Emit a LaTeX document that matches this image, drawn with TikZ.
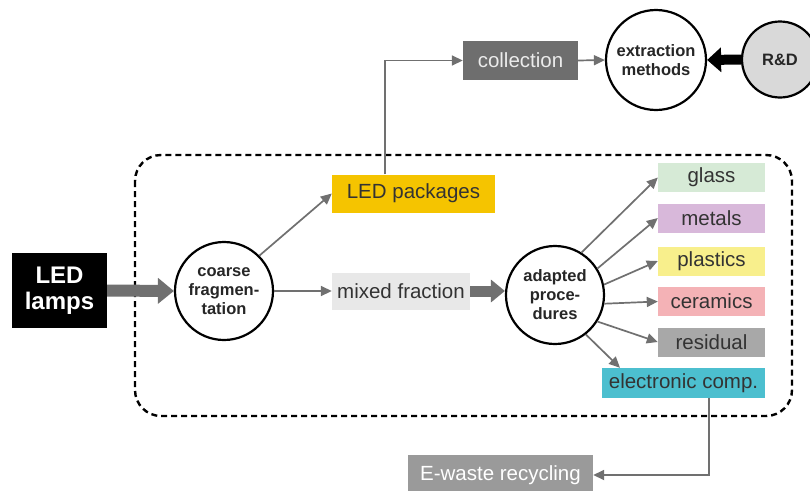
\documentclass[tikz,border=0pt]{standalone}
\usepackage{fontspec}
\setmainfont{Liberation Sans}
\usetikzlibrary{arrows.meta,positioning}
\definecolor{arrgray}{HTML}{707070}
\definecolor{ledyellow}{HTML}{F5C400}
\definecolor{mixgray}{HTML}{E8E8E8}
\definecolor{colgray}{HTML}{6E6E6E}
\definecolor{rdgray}{HTML}{D9D9D9}
\definecolor{cglass}{HTML}{D6EAD6}
\definecolor{cmetal}{HTML}{D8B8DA}
\definecolor{cplast}{HTML}{F8EF8C}
\definecolor{cceram}{HTML}{F4B2B6}
\definecolor{cresid}{HTML}{A8A8A8}
\definecolor{celec}{HTML}{4CBFCF}
\definecolor{cewaste}{HTML}{9A9A9A}
\tikzset{
  boxtxt/.style={font=\fontsize{20.5}{22}\selectfont, inner sep=0pt, text=black!80},
  outbox/.style={boxtxt, minimum width=107pt, minimum height=29pt},
  proc/.style={circle, draw=black, line width=2.2pt, fill=white, minimum size=98pt, inner sep=0pt, align=center, font=\bfseries\fontsize{16.5}{19}\selectfont, text=black!85},
  conn/.style={draw=arrgray, line width=1.7pt, -{Triangle[length=11pt,width=10pt]}},
  thick arrow/.style={draw=arrgray, line width=12pt, -{Triangle[length=16pt,width=25pt]}},
}
\begin{document}
\begin{tikzpicture}[x=1pt,y=-1pt]
\useasboundingbox (0,0) rectangle (810,490);
\fill[white] (0,0) rectangle (810,490);
% dashed frame
\draw[line width=2.4pt, dash pattern=on 6pt off 4pt, rounded corners=26pt] (135,155) rectangle (792,416);
% nodes
\node[fill=black, text=white, font=\bfseries\fontsize{24}{26}\selectfont, align=center, minimum width=95pt, minimum height=75pt, inner sep=0pt] (lamps) at (59.5,290.5) {LED\\lamps};
\node[proc] (coarse) at (224,291) {coarse\\fragmen-\\tation};
\node[boxtxt, fill=mixgray, minimum width=138pt, minimum height=37pt] (mixed) at (401,291) {mixed fraction};
\node[boxtxt, fill=ledyellow, minimum width=163pt, minimum height=38pt] (pack) at (413.5,193.5) {LED packages};
\node[proc] (adapt) at (555,295) {adapted\\proce-\\dures};
\node[boxtxt, fill=colgray, text=white!92!black, minimum width=115pt, minimum height=39pt] (coll) at (520.5,60.5) {collection};
\node[proc, minimum size=100pt] (extr) at (656,60) {extraction\\methods};
\node[proc, fill=rdgray, minimum size=76pt] (rd) at (780,59.5) {R\&D};
\node[outbox, fill=cglass] (glass) at (711.5,177.5) {glass};
\node[outbox, fill=cmetal] (metal) at (711.5,218) {metals};
\node[outbox, fill=cplast] (plast) at (711.5,261) {plastics};
\node[outbox, fill=cceram] (ceram) at (711.5,301.5) {ceramics};
\node[outbox, fill=cresid] (resid) at (711.5,342) {residual};
\node[boxtxt, fill=celec, minimum width=163pt, minimum height=30pt] (elec) at (683.5,383) {electronic comp.};
\node[boxtxt, fill=cewaste, text=white, minimum width=185pt, minimum height=40pt] (ewaste) at (500.5,475) {E-waste recycling};
% connectors
\draw[thick arrow] (lamps.east) -- (coarse.west);
\draw[conn] (coarse.east) -- (mixed.west);
\draw[conn] (coarse.45) -- (pack.west);
\draw[thick arrow, line width=11pt, -{Triangle[length=14pt,width=22pt]}] (mixed.east) -- (adapt.west |- mixed.east);
\coordinate (packtop) at (385,174);
\draw[conn] (pack.north -| packtop) |- (coll.west);
\draw[conn] (coll.east) -- (extr.west);
\draw[draw=black, line width=10pt, -{Triangle[length=14pt,width=24pt]}] (rd.west) -- (extr.east);
\draw[conn] (adapt.58) -- (glass.west);
\draw[conn] (adapt.32) -- (metal.west);
\draw[conn] (adapt.12) -- (plast.west);
\draw[conn] (adapt.-10) -- (ceram.west);
\draw[conn] (adapt.-32) -- (resid.west);
\draw[conn] (adapt.-52) -- (elec.north west -| 620,0);
\coordinate (elecbot) at (709,398);
\draw[conn] (elecbot) |- (ewaste.east);
\end{tikzpicture}
\end{document}
